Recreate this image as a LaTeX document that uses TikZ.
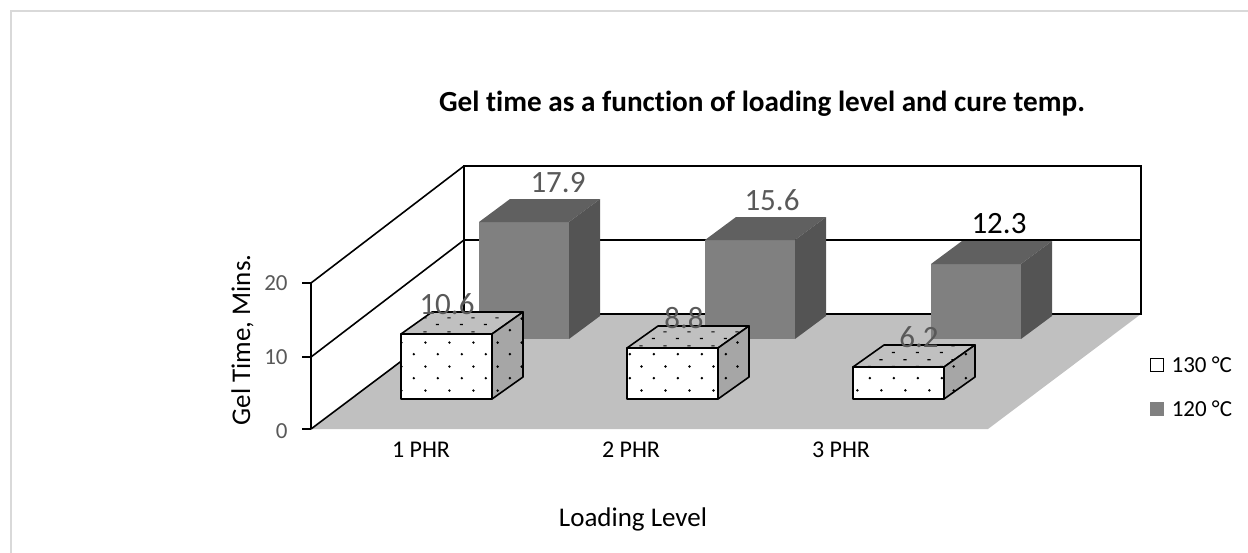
\documentclass[tikz,border=0pt]{standalone}
\usepackage{fontspec}
\setmainfont{Carlito}[Ligatures=NoCommon]
\usepackage{xcolor}
\usepackage{tikz}
\usetikzlibrary{patterns,positioning}
\definecolor{Frame}{HTML}{D9D9D9}
\definecolor{Floor}{HTML}{C0C0C0}
\definecolor{Ink}{HTML}{595959}
\definecolor{LoFront}{HTML}{808080}
\definecolor{LoTop}{HTML}{606060}
\definecolor{LoSide}{HTML}{545454}
\definecolor{HiTop}{HTML}{C0C0C0}
\definecolor{HiSide}{HTML}{A6A6A6}
% staggered dot fill of the 130 C blocks
\pgfdeclarepatternformonly{stagdots}{\pgfpointorigin}{\pgfqpoint{12pt}{12pt}}{\pgfqpoint{12pt}{12pt}}{%
  \pgfpathcircle{\pgfqpoint{3pt}{3pt}}{.7pt}
  \pgfpathcircle{\pgfqpoint{9pt}{9pt}}{.7pt}
  \pgfusepath{fill}}
\pgfdeclarepatternformonly{stagdash}{\pgfpointorigin}{\pgfqpoint{12pt}{7pt}}{\pgfqpoint{12pt}{7pt}}{%
  \pgfpathrectangle{\pgfqpoint{2pt}{1.5pt}}{\pgfqpoint{1.6pt}{.6pt}}
  \pgfpathrectangle{\pgfqpoint{8pt}{5pt}}{\pgfqpoint{1.6pt}{.6pt}}
  \pgfusepath{fill}}
\tikzset{
  wall/.style={draw=black,line width=.8pt},
  edge/.style={draw=black,line width=.8pt,line join=round},
  val/.style={font=\fontsize{15.5}{18}\selectfont,text=Ink,inner sep=0pt},
  tick/.style={font=\fontsize{11.5}{14}\selectfont,text=Ink,inner sep=0pt,anchor=east},
  cat/.style={font=\fontsize{12}{14}\selectfont,inner sep=0pt},
  axtitle/.style={font=\fontsize{13.5}{16}\selectfont,inner sep=0pt},
  key/.style={font=\fontsize{11.5}{14}\selectfont,inner sep=0pt}
}
% gray block: left x, top y, base y
\newcommand{\loblock}[3]{%
  \fill[LoFront] (#1,#2) rectangle (#1+90,#3);
  \fill[LoTop] (#1,#2) -- ++(31,-23) -- ++(90,0) -- (#1+90,#2) -- cycle;
  \fill[LoSide] (#1+90,#2) -- ++(31,-23) -- ++(0,#3-#2) -- (#1+90,#3) -- cycle;
}
% dotted block: left x, top y, base y
\newcommand{\hiblock}[3]{%
  \draw[edge,preaction={fill=white},pattern=stagdots] (#1,#2) rectangle (#1+91,#3);
  \draw[edge,preaction={fill=HiTop},pattern=stagdash] (#1,#2) -- ++(31,-22) -- ++(91,0) -- (#1+91,#2) -- cycle;
  \draw[edge,preaction={fill=HiSide},pattern=stagdots] (#1+91,#2) -- ++(31,-22) -- ++(0,#3-#2) -- (#1+91,#3) -- cycle;
}

\begin{document}
\begin{tikzpicture}[x=.5pt,y=-.5pt]
  \useasboundingbox (0,0) rectangle (1248,552);
  \draw[Frame,line width=1pt] (11,570) -- (11,11) -- (1270,11);
  \node[font=\bfseries\fontsize{14.6}{17}\selectfont,inner sep=0pt] (ttl) at (762,104) {Gel time as a function of loading level and cure temp.};

  % floor and walls
  \fill[Floor] (311,429) -- (464,314) -- (1141,314) -- (988,429) -- cycle;
  \draw[wall] (464,166) rectangle (1141,314);
  \draw[wall] (464,240) -- (1141,240);
  \draw[wall] (311,283) -- (464,166);
  \draw[wall] (311,357) -- (464,240);
  \draw[wall] (311,429) -- (464,314);
  \draw[wall] (311,283) -- (311,429);
  \foreach \t in {283,357,429} \draw[wall] (302,\t) -- (311,\t);
  \node[tick] (y20) at (288,283) {20};
  \node[tick] (y10) at (288,357) {10};
  \node[tick] (y0) at (288,431) {0};
  \node[axtitle,rotate=90,anchor=base] (ytl) at (250,340) {Gel Time, Mins.};

  % 120 C row
  \loblock{479}{222}{339}
  \loblock{705}{240}{339}
  \loblock{931}{264}{339}
  % 130 C row
  \hiblock{401}{334}{399}
  \hiblock{627}{348}{399}
  \hiblock{853}{367}{399}

  \node[val] (v1) at (558,183) {17.9};
  \node[val] (v2) at (772,200) {15.6};
  \node[val,text=black] (v3) at (999,224) {12.3};
  \node[val] (w1) at (447,304) {10.6};
  \node[val] (w2) at (684,318) {8.8};
  \node[val] (w3) at (919,337) {6.2};

  \node[cat] (c1) at (421,450) {1 PHR};
  \node[cat] (c2) at (631,450) {2 PHR};
  \node[cat] (c3) at (841,450) {3 PHR};
  \node[axtitle] (xtl) at (633,519) {Loading Level};

  % legend
  \node[draw=black,line width=.7pt,fill=white,minimum size=6.5pt,inner sep=0pt] (k1) at (1157,365) {};
  \node[key,right=3.5pt of k1] {130 °C};
  \node[fill=LoFront,minimum size=7pt,inner sep=0pt] (k2) at (1157,409) {};
  \node[key,right=3.5pt of k2] {120 °C};
\end{tikzpicture}
\end{document}
